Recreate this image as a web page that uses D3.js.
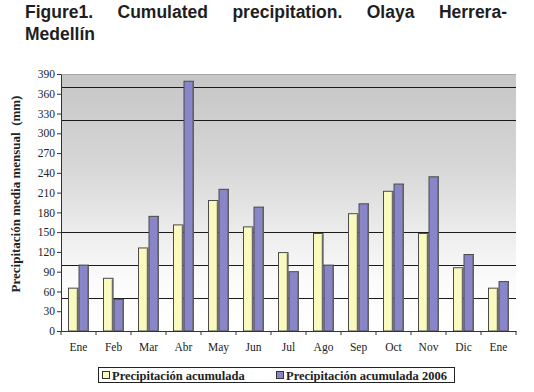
<html>
  <head>
    <style>
      body {
        margin:0;
        background:#fff;
      }
      .axis text {
        font-family:"Liberation Serif", "DejaVu Serif", serif;
        font-size:11.5px;
        fill:#222;
      }
      .axis .domain, .axis .tick line {
        stroke:#333;
      }
      .title {
        font-family:"Liberation Sans", Arial, sans-serif;
        font-weight:bold;
        font-size:17.5px;
        fill:#1e1e1e;
      }
      .ylabel {
        font-family:"Liberation Serif", "DejaVu Serif", serif;
        font-weight:bold;
        font-size:13px;
        fill:#222;
      }
      .legend text {
        font-family:"Liberation Serif", "DejaVu Serif", serif;
        font-weight:bold;
        font-size:12.5px;
        fill:#222;
      }
    </style>
  </head>
  <body>
    <div class="chart"></div>
    <script src="https://cdn.jsdelivr.net/npm/d3@7"></script>
    <script>
      var months = ["Ene", "Feb", "Mar", "Abr", "May", "Jun", "Jul", "Ago", "Sep", "Oct", "Nov", "Dic", "Ene "];
      var acumulada = [65, 80, 126, 161, 198, 158, 119, 148, 178, 212, 148, 96, 65];
      var acumulada2006 = [100, 48, 174, 379, 215, 188, 90, 100, 193, 223, 234, 116, 75];
      var seriesNames = ["Precipitación acumulada", "Precipitación acumulada 2006"];
      var seriesColors = ["#fafabe", "#8985c9"];
      var refLines = [50, 100, 150, 320, 370];
      var yTicks = d3.range(0, 391, 30);

      var width = 534, height = 392;
      var margin = {top:74, right:18, bottom:61, left:61};
      var plotW = width - margin.left - margin.right;
      var plotH = height - margin.top - margin.bottom;

      var svg = d3.select(".chart").append("svg")
        .attr("width", width)
        .attr("height", height);

      // title, justified over the first line
      var titleWords = ["Figure1.", "Cumulated", "precipitation.", "Olaya", "Herrera-"];
      var tx0 = 25, tx1 = 507;
      var words = svg.selectAll(".tw").data(titleWords).enter().append("text")
        .attr("class", "title")
        .attr("y", 18)
        .text(function (d) { return d; });
      var widths = [];
      words.each(function () { widths.push(this.getComputedTextLength()); });
      var gap = (tx1 - tx0 - d3.sum(widths)) / (titleWords.length - 1);
      var pos = tx0;
      words.attr("x", function (d, i) {
        var p = pos;
        pos += widths[i] + gap;
        return p;
      });
      svg.append("text").attr("class", "title").attr("x", tx0).attr("y", 40).text("Medellín");

      var defs = svg.append("defs");
      var grad = defs.append("linearGradient")
        .attr("id", "bg")
        .attr("x1", 0).attr("y1", 0).attr("x2", 0).attr("y2", 1);
      grad.append("stop").attr("offset", "0%").attr("stop-color", "#c6c6c6");
      grad.append("stop").attr("offset", "35%").attr("stop-color", "#d6d6d6");
      grad.append("stop").attr("offset", "80%").attr("stop-color", "#fbfbfb");
      grad.append("stop").attr("offset", "100%").attr("stop-color", "#ffffff");

      var g = svg.append("g")
        .attr("transform", "translate(" + margin.left + "," + margin.top + ")");

      var x = d3.scaleBand().domain(months).range([0, plotW]);
      var x1 = d3.scaleBand().domain([0, 1])
        .range([x.bandwidth() * 0.2, x.bandwidth() * 0.8]);
      var y = d3.scaleLinear().domain([0, 390]).range([plotH, 0]);

      g.append("rect")
        .attr("width", plotW)
        .attr("height", plotH)
        .attr("fill", "url(#bg)");
      g.append("line")
        .attr("x1", 0).attr("x2", plotW)
        .attr("y1", 0.5).attr("y2", 0.5)
        .attr("stroke", "#a8a8a8");

      g.selectAll(".ref").data(refLines).enter().append("line")
        .attr("x1", 0).attr("x2", plotW)
        .attr("y1", function (d) { return Math.round(y(d)) + 0.5; })
        .attr("y2", function (d) { return Math.round(y(d)) + 0.5; })
        .attr("stroke", "#1a1a1a")
        .attr("stroke-width", 1.2);

      var data = months.map(function (m, i) {
        return {month:m, values:[acumulada[i], acumulada2006[i]]};
      });

      var groups = g.selectAll(".grp").data(data).enter().append("g")
        .attr("transform", function (d) { return "translate(" + x(d.month) + ",0)"; });

      groups.selectAll("rect").data(function (d) { return d.values; }).enter().append("rect")
        .attr("x", function (d, i) { return x1(i) + 0.5; })
        .attr("y", function (d) { return y(d); })
        .attr("width", x1.bandwidth() - 1)
        .attr("height", function (d) { return plotH - y(d); })
        .attr("fill", function (d, i) { return seriesColors[i]; })
        .attr("stroke", "#4a4a4a")
        .attr("stroke-width", 1);

      groups.selectAll(".shade").data(function (d) { return d.values; }).enter().append("line")
        .attr("x1", function (d, i) { return x1(i) + x1.bandwidth() - 1; })
        .attr("x2", function (d, i) { return x1(i) + x1.bandwidth() - 1; })
        .attr("y1", function (d) { return y(d) + 1; })
        .attr("y2", plotH)
        .attr("stroke", "#6a6a6a")
        .attr("stroke-width", 1.5);

      g.append("g").attr("class", "axis")
        .call(d3.axisLeft(y).tickValues(yTicks).tickSize(4).tickPadding(2).tickSizeOuter(0));

      var xAxis = g.append("g").attr("class", "axis")
        .attr("transform", "translate(0," + plotH + ")")
        .call(d3.axisBottom(x).tickSize(0).tickPadding(12).tickSizeOuter(0));
      xAxis.selectAll(".tick text").text(function (d) { return d.trim(); });

      g.append("g").selectAll("line")
        .data(months.map(function (m) { return x(m); }).concat([plotW]))
        .enter().append("line")
        .attr("x1", function (d) { return d; }).attr("x2", function (d) { return d; })
        .attr("y1", plotH).attr("y2", plotH + 4)
        .attr("stroke", "#333");

      svg.append("text")
        .attr("class", "ylabel")
        .attr("transform", "translate(20,194) rotate(-90)")
        .attr("text-anchor", "middle")
        .attr("xml:space", "preserve")
        .style("white-space", "pre")
        .text("Precipitación media mensual  (mm)");

      // legend
      var legend = svg.append("g").attr("class", "legend");
      legend.append("rect")
        .attr("x", 98.5).attr("y", 367.5)
        .attr("width", 356).attr("height", 15)
        .attr("fill", "#fff")
        .attr("stroke", "#222");
      var items = legend.selectAll(".item").data(seriesNames).enter().append("g")
        .attr("transform", function (d, i) { return "translate(" + (i === 0 ? 102 : 276) + ",0)"; });
      items.append("rect")
        .attr("x", 0.5).attr("y", 371.5)
        .attr("width", 7).attr("height", 7)
        .attr("fill", function (d, i) { return seriesColors[i]; })
        .attr("stroke", "#333");
      items.append("text")
        .attr("x", 10).attr("y", 379.5)
        .text(function (d) { return d; });
    </script>
  </body>
</html>
